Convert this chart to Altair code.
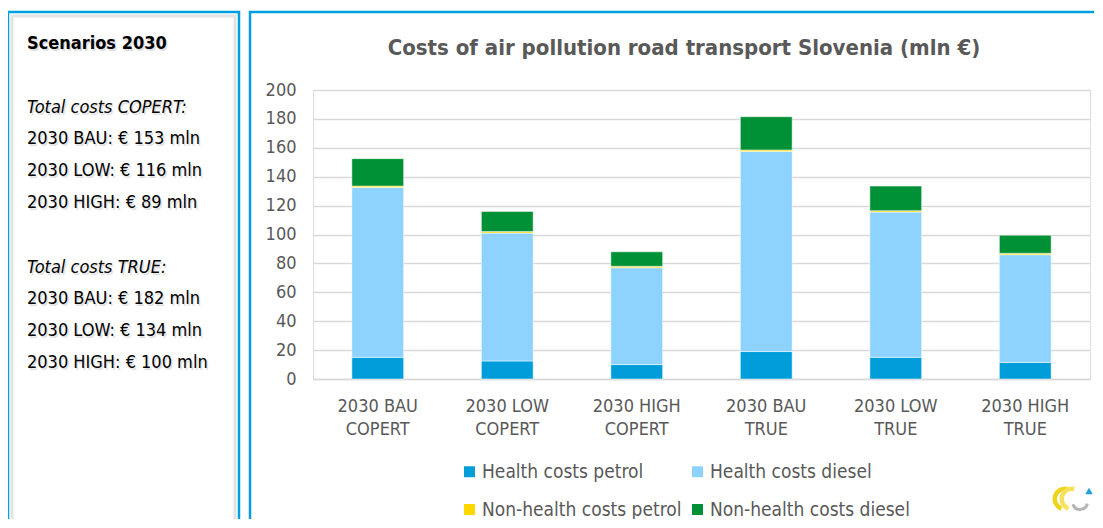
import altair as alt
import pandas as pd

scenarios = ["2030 BAU COPERT", "2030 LOW COPERT", "2030 HIGH COPERT",
             "2030 BAU TRUE", "2030 LOW TRUE", "2030 HIGH TRUE"]
series = ["Health costs petrol", "Health costs diesel",
          "Non-health costs petrol", "Non-health costs diesel"]
colors = ["#009DDB", "#8ED3FF", "#FFD700", "#009035"]

health_petrol = [15.0, 12.5, 10.0, 19.0, 15.0, 11.5]
health_diesel = [117.5, 88.5, 67.0, 138.5, 100.5, 74.5]
nonhealth_petrol = [1.0, 1.0, 1.0, 1.0, 1.0, 1.0]
nonhealth_diesel = [19.0, 14.0, 10.0, 23.0, 17.0, 12.5]

panel_head = "Scenarios 2030"
panel_copert_head = "Total costs COPERT:"
panel_copert = ["2030 BAU: € 153 mln", "2030 LOW: € 116 mln", "2030 HIGH: € 89 mln"]
panel_true_head = "Total costs TRUE:"
panel_true = ["2030 BAU: € 182 mln", "2030 LOW: € 134 mln", "2030 HIGH: € 100 mln"]
title_text = "Costs of air pollution road transport Slovenia (mln €)"

FONT = "DejaVu Sans Condensed"

rows = []
for i, s in enumerate(scenarios):
    for k, (name, vals) in enumerate(zip(series, [health_petrol, health_diesel,
                                                 nonhealth_petrol, nonhealth_diesel])):
        rows.append({"scenario": s, "series": name, "value": vals[i], "order": k})
df = pd.DataFrame(rows)

W, H = 777, 289

bars = alt.Chart(df).mark_bar(stroke="white", strokeWidth=0.5).encode(
    x=alt.X("scenario:N", sort=scenarios, title=None,
            scale=alt.Scale(paddingInner=0.6, paddingOuter=0.3),
            axis=alt.Axis(labelAngle=0, labelFont=FONT, labelFontSize=18, labelColor="#595959",
                          labelLineHeight=23, labelPadding=18, ticks=False, domain=True,
                          domainColor="#D9D9D9", domainWidth=1.5,
                          labelExpr="[slice(datum.label,0,lastindexof(datum.label,' ')), slice(datum.label,lastindexof(datum.label,' ')+1)]")),
    y=alt.Y("value:Q", stack="zero", title=None,
            scale=alt.Scale(domain=[0, 200], nice=False),
            axis=alt.Axis(values=list(range(0, 201, 20)), labelFont=FONT, labelFontSize=18,
                          labelColor="#595959", labelPadding=17, ticks=False, domain=False,
                          gridColor="#D9D9D9", gridWidth=1.5)),
    color=alt.Color("series:N", sort=series,
                    scale=alt.Scale(domain=series, range=colors),
                    legend=alt.Legend(orient="none", legendX=147, legendY=372, columns=2,
                                      direction="horizontal",
                                      title=None, symbolType="square", symbolSize=120,
                                      symbolStrokeWidth=0, labelFont=FONT, labelFontSize=19,
                                      labelColor="#595959", rowPadding=18, columnPadding=6,
                                      labelOffset=3, symbolOffset=0, labelLimit=400)),
    order=alt.Order("order:Q"),
)

one = pd.DataFrame({"a": [0]})

def box(x1, x2, y1, y2, color="#00A0E0", sw=2.5):
    return alt.Chart(one).mark_rect(
        fillOpacity=0, stroke=color, strokeWidth=sw
    ).encode(x=alt.value(x1), x2=alt.value(x2), y=alt.value(y1), y2=alt.value(y2))

left_shadow = box(-301, -78, -74, 460, color="#E3E3E3", sw=3)
left_box = box(-305, -74, -78, 460)
right_box = box(-63, 800, -78, 460)

title = alt.Chart(pd.DataFrame({"t": [title_text]})).mark_text(
    font=FONT, fontSize=22, fontWeight="bold", color="#595959", align="center", baseline="middle"
).encode(text="t:N", x=alt.value(371), y=alt.value(-42))

def txt(lines, y, weight="normal", style="normal", shade=False):
    return alt.Chart(one).mark_text(
        text=lines, font=FONT, fontSize=18, fontWeight=weight, fontStyle=style,
        color="#9A9A9A" if shade else "black", opacity=0.3 if shade else 1,
        align="left", baseline="middle", lineHeight=32, dx=1.5 if shade else 0, dy=1.5 if shade else 0
    ).encode(x=alt.value(-286), y=alt.value(y))

panel = []
for shade in (True, False):
    panel += [
        txt([panel_head], -46, weight="bold", shade=shade),
        txt([panel_copert_head], 18, style="italic", shade=shade),
        txt(panel_copert, 49, shade=shade),
        txt([panel_true_head], 178, style="italic", shade=shade),
        txt(panel_true, 209, shade=shade),
    ]

# small logo in the lower right corner
def logo_arc(cx, cy, r1, r2, t1, t2, color):
    return alt.Chart(one).mark_arc(
        radius=r2, radius2=r1, theta=t1, theta2=t2, color=color
    ).encode(x=alt.value(cx), y=alt.value(cy))

logo = [
    logo_arc(752, 409, 8, 12.5, 3.5, 6.5, "#F2D31B"),
    logo_arc(759, 409, 8, 12.5, 3.5, 6.5, "#F6E25A"),
    logo_arc(767, 412, 6, 9, 1.8, 4.4, "#B5B5B5"),
    alt.Chart(one).mark_point(shape="triangle-up", filled=True, size=55, color="#1FA0E0", opacity=1)
    .encode(x=alt.value(776), y=alt.value(401)),
]

chart = alt.layer(left_shadow, left_box, right_box, title, *panel, *logo, bars).properties(
    width=W, height=H,
    padding={"left": 305, "top": 82, "right": 4, "bottom": 140},
    autosize=alt.AutoSizeParams(type="none"),
).configure_view(stroke="#D9D9D9", strokeWidth=1.5).configure(background="white")

chart.save("out.html", embed_options={"renderer": "svg", "actions": False})
